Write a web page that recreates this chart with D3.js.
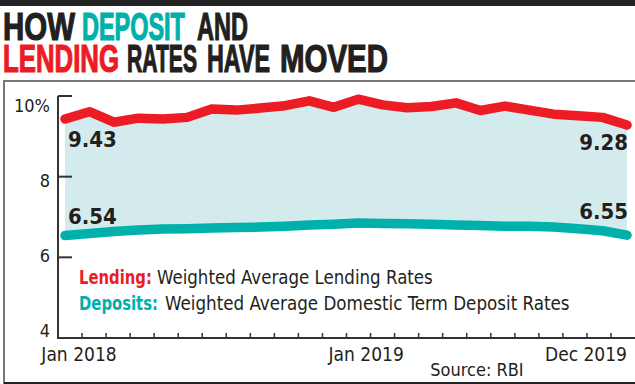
<!DOCTYPE html>
<html>
<head>
<meta charset="utf-8">
<script src="https://cdn.jsdelivr.net/npm/d3@7"></script>
<style>
  body { margin: 0; background: #fff; }
  svg { display: block; }
</style>
</head>
<body>
<div id="chart"></div>
<script>
// Monthly data, Jan 2018 - Dec 2019
const months = ["Jan 2018", "Feb 2018", "Mar 2018", "Apr 2018", "May 2018", "Jun 2018",
    "Jul 2018", "Aug 2018", "Sep 2018", "Oct 2018", "Nov 2018", "Dec 2018",
    "Jan 2019", "Feb 2019", "Mar 2019", "Apr 2019", "May 2019", "Jun 2019",
    "Jul 2019", "Aug 2019", "Sep 2019", "Oct 2019", "Nov 2019", "Dec 2019"];
const lending = [9.43, 9.61, 9.35, 9.45, 9.43, 9.47, 9.68, 9.65, 9.70, 9.76, 9.88, 9.72,
    9.92, 9.78, 9.71, 9.74, 9.83, 9.64, 9.75, 9.65, 9.55, 9.51, 9.47, 9.28];
const deposits = [6.54, 6.59, 6.64, 6.68, 6.70, 6.71, 6.73, 6.74, 6.75, 6.77, 6.80, 6.82,
    6.85, 6.84, 6.83, 6.82, 6.80, 6.79, 6.77, 6.77, 6.75, 6.71, 6.66, 6.55];
const yTicks = [4, 6, 8, 10];
const yTickLabels = ["4", "6", "8", "10%"];
const xLabels = ["Jan 2018", "Jan 2019", "Dec 2019"];

const W = 635, H = 384;
const RED = "#ed1c24", TEAL = "#00b0aa", INK = "#231f20";
const narrow = "'Liberation Sans Narrow', 'DejaVu Sans Condensed', 'Roboto', sans-serif";

const svg = d3.select("#chart").append("svg")
    .attr("width", W).attr("height", H);

// squeeze a text horizontally so it runs from x0 over w pixels
function fit(t, x0, y0, w) {
    const n = t.node().getComputedTextLength();
    t.attr("x", 0).attr("y", 0)
        .attr("transform", `translate(${x0},${y0}) scale(${w / n},1)`);
    return t;
}

// top rule
svg.append("rect").attr("x", 0).attr("y", 0).attr("width", W).attr("height", 6).attr("fill", "#222");

// title, word by word
const titleWords = [
    [["HOW", INK, 3, 72], ["DEPOSIT", TEAL, 82, 103], ["AND", INK, 197, 51]],
    [["LENDING", RED, 3, 116], ["RATES", INK, 127, 70], ["HAVE", INK, 207, 63], ["MOVED", INK, 280, 108]]
];
titleWords.forEach((line, i) => {
    line.forEach(([s, c, x0, w]) => {
        const t = svg.append("text")
            .attr("font-family", "'Liberation Sans', Arial, sans-serif")
            .attr("font-weight", 900).attr("font-size", 38)
            .attr("fill", c).attr("stroke", c).attr("stroke-width", 1.2)
            .text(s);
        fit(t, x0, 40 + i * 32, w);
    });
});

// frame
svg.append("path")
    .attr("d", `M${W},81 H4 V383 H${W}`)
    .attr("fill", "none").attr("stroke", "#777").attr("stroke-width", 2);
svg.append("line").attr("x1", 4).attr("x2", W).attr("y1", 383).attr("y2", 383)
    .attr("stroke", "#222").attr("stroke-width", 2);

// scales
const x = d3.scaleLinear().domain([0, months.length - 1]).range([65, 627]);
const y = d3.scaleLinear().domain([4, 10]).range([338, 96]);
const xTick = d3.scaleLinear().domain([0, 22]).range([82, 611]);
const yLabel = d3.scaleLinear().domain([4, 10]).range([337, 112]);

// band between the two series
const area = d3.area()
    .x((d, i) => x(i))
    .y0((d, i) => y(deposits[i]))
    .y1(d => y(d));
svg.append("path").datum(lending)
    .attr("d", area).attr("fill", "#d4ebee");

const line = d3.line().x((d, i) => x(i)).y(d => y(d));
[[deposits, TEAL], [lending, RED]].forEach(([s, c]) => {
    svg.append("path").datum(s)
        .attr("d", line)
        .attr("fill", "none").attr("stroke", c)
        .attr("stroke-width", 9.5)
        .attr("stroke-linecap", "round").attr("stroke-linejoin", "round");
});

// axes
const axisColor = "#333";
svg.append("line").attr("x1", 58).attr("x2", 58).attr("y1", y(10)).attr("y2", y(4) + 1)
    .attr("stroke", axisColor).attr("stroke-width", 2);
svg.append("line").attr("x1", 57).attr("x2", W).attr("y1", y(4)).attr("y2", y(4))
    .attr("stroke", axisColor).attr("stroke-width", 2);
svg.selectAll(".ytick").data(yTicks.slice(1)).enter().append("line")
    .attr("x1", 58).attr("x2", 72)
    .attr("y1", d => y(d)).attr("y2", d => y(d))
    .attr("stroke", axisColor).attr("stroke-width", 2);
svg.selectAll(".ylab").data(yTicks).enter().append("text")
    .attr("x", 50).attr("y", d => yLabel(d))
    .attr("text-anchor", "end")
    .attr("font-family", narrow).attr("font-size", 18).attr("fill", INK)
    .text((d, i) => yTickLabels[i]);
svg.selectAll(".xtick").data(d3.range(23)).enter().append("line")
    .attr("x1", d => xTick(d)).attr("x2", d => xTick(d))
    .attr("y1", y(4) - 5).attr("y2", y(4))
    .attr("stroke", axisColor).attr("stroke-width", 1.5);

const xLabelIdx = [0, 12, 23];
const xLabelShift = [14, 8, 0];
const xLabelAnchor = ["middle", "middle", "end"];
xLabels.forEach((s, i) => {
    svg.append("text")
        .attr("x", x(xLabelIdx[i]) + xLabelShift[i]).attr("y", 361)
        .attr("text-anchor", xLabelAnchor[i])
        .attr("font-family", narrow).attr("font-size", 19).attr("fill", INK)
        .text(s);
});
svg.append("text")
    .attr("x", 477).attr("y", 376).attr("text-anchor", "middle")
    .attr("font-family", narrow).attr("font-size", 18).attr("fill", INK)
    .text("Source: RBI");

// end value labels
const ends = [
    [lending[0], 0, "start", 147], [deposits[0], 0, "start", 224],
    [lending[23], 23, "end", 150], [deposits[23], 23, "end", 219]
];
ends.forEach(([v, i, a, yy]) => {
    svg.append("text")
        .attr("x", x(i) + (a === "start" ? 3 : 1)).attr("y", yy)
        .attr("text-anchor", a)
        .attr("font-family", narrow).attr("font-weight", "bold")
        .attr("font-size", 22).attr("fill", INK)
        .text(v.toFixed(2));
});

// legend: coloured key, then description
const legend = [
    ["Lending:", RED, "Weighted Average Lending Rates", 73, 157, 276],
    ["Deposits:", TEAL, "Weighted Average Domestic Term Deposit Rates", 79, 165, 405]
];
legend.forEach(([k, c, s, kw, dx, dw], i) => {
    const yy = 284 + i * 26;
    const kt = svg.append("text")
        .attr("font-family", narrow).attr("font-size", 19).attr("font-weight", "bold")
        .attr("fill", c).text(k);
    fit(kt, 79, yy, kw);
    const dt = svg.append("text")
        .attr("font-family", narrow).attr("font-size", 19).attr("fill", INK)
        .text(s);
    fit(dt, dx, yy, dw);
});
</script>
</body>
</html>
